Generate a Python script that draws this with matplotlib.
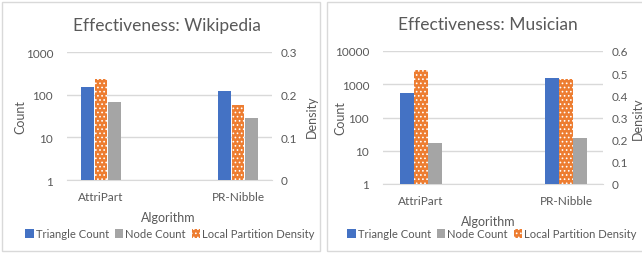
import matplotlib
matplotlib.use("Agg")
import matplotlib.pyplot as plt
from matplotlib.patches import Patch, Rectangle

plt.rcParams["font.family"] = ["Lato", "DejaVu Sans"]
plt.rcParams["hatch.linewidth"] = 0.7

algorithms = ["AttriPart", "PR-Nibble"]
legend_labels = ["Triangle Count", "Node Count", "Local Partition Density"]

# Wikipedia
wiki_triangles = [150, 120]
wiki_nodes = [68, 28]
wiki_density = [0.237, 0.176]

# Musician
mus_triangles = [550, 1550]
mus_nodes = [17, 24]
mus_density = [0.514, 0.474]

BLUE = "#4472C4"
GRAY = "#A5A5A5"
ORANGE = "#ED7D31"
TEXT = "#595959"
GRID = "#D9D9D9"
HATCH = "...."

W, H = 642, 255
fig = plt.figure(figsize=(W / 100, H / 100), dpi=100)


def px(x0, y0, x1, y1):
    # pixel box (top-left origin) -> figure fraction rect
    return [x0 / W, 1 - y1 / H, (x1 - x0) / W, (y1 - y0) / H]


def panel(rect, title, tri, nodes, dens, ymax, dmax, dstep, xlim, title_xy,
          xlabel_xy, count_x, dens_x, legend_xy):
    ax = fig.add_axes(rect)
    ax2 = ax.twinx()
    x = [0, 1]
    w, off = 0.092, 0.097
    ax.bar([i - off for i in x], tri, w, color=BLUE, zorder=3)
    ax.bar([i + off for i in x], nodes, w, color=GRAY, zorder=3)
    ax2.bar(x, dens, w, color=ORANGE, edgecolor="white", hatch=HATCH,
            linewidth=0, zorder=3)
    ax.set_yscale("log")
    ax.set_ylim(1, ymax)
    ax.set_xlim(*xlim)
    ax2.set_ylim(0, dmax)
    ticks = [round(i * dstep, 2) for i in range(int(round(dmax / dstep)) + 1)]
    ax2.set_yticks(ticks)
    ax2.set_yticklabels(["0" if t == 0 else f"{t:g}" for t in ticks])
    yt = [10 ** k for k in range(len(str(ymax)))]
    ax.set_yticks(yt)
    ax.set_yticklabels([str(v) for v in yt])
    ax.minorticks_off()
    ax.yaxis.grid(True, color=GRID, linewidth=1, zorder=0)
    ax.set_axisbelow(True)
    for a in (ax, ax2):
        for s in a.spines.values():
            s.set_visible(False)
    ax.spines["bottom"].set_visible(True)
    ax.spines["bottom"].set_color(GRID)
    ax.set_xticks(x)
    ax.set_xticklabels(algorithms)
    ax.tick_params(axis="both", length=0, labelsize=8.5, colors=TEXT, pad=8)
    ax.tick_params(axis="y", pad=10)
    ax2.tick_params(axis="y", length=0, labelsize=8.5, colors=TEXT, pad=6)
    fig.text(title_xy[0] / W, 1 - title_xy[1] / H, title, ha="center",
             va="center", fontsize=12.5, color=TEXT)
    fig.text(xlabel_xy[0] / W, 1 - xlabel_xy[1] / H, "Algorithm", ha="center",
             va="center", fontsize=9, color=TEXT)
    fig.text(count_x / W, rect[1] + rect[3] / 2, "Count", rotation=90,
             ha="center", va="center", fontsize=9, color=TEXT)
    fig.text(dens_x / W, rect[1] + rect[3] / 2, "Density", rotation=90,
             ha="center", va="center", fontsize=9, color=TEXT)
    handles = [
        Patch(facecolor=BLUE, edgecolor="none"),
        Patch(facecolor=GRAY, edgecolor="none"),
        Patch(facecolor=ORANGE, edgecolor="white", hatch=HATCH, linewidth=0),
    ]
    fig.legend(handles, legend_labels, loc="center",
               bbox_to_anchor=(legend_xy[0] / W, 1 - legend_xy[1] / H),
               ncol=3, frameon=False, fontsize=8.1, handlelength=0.75,
               handleheight=0.75, handletextpad=0.2, columnspacing=0.5,
               labelcolor=TEXT, borderaxespad=0, borderpad=0)
    return ax


# chart frames
fig.patches.append(Rectangle((2 / W, 1 - 252 / H), 318 / W, 249 / H,
                             transform=fig.transFigure, fill=False,
                             edgecolor=GRID, linewidth=1))
fig.patches.append(Rectangle((327 / W, 1 - 252 / H), 330 / W, 249 / H,
                             transform=fig.transFigure, fill=False,
                             edgecolor=GRID, linewidth=1))

panel(px(67, 53, 272, 181), "Effectiveness: Wikipedia", wiki_triangles,
      wiki_nodes, wiki_density, 1000, 0.3, 0.1, (-0.248, 1.248),
      (167, 26), (168, 218), 20, 312, (170, 235))
panel(px(383, 52, 603, 185), "Effectiveness: Musician", mus_triangles,
      mus_nodes, mus_density, 10000, 0.6, 0.1, (-0.262, 1.255),
      (488, 25), (488, 222), 340, 638, (492, 235))

fig.savefig("out.png", dpi=100)
